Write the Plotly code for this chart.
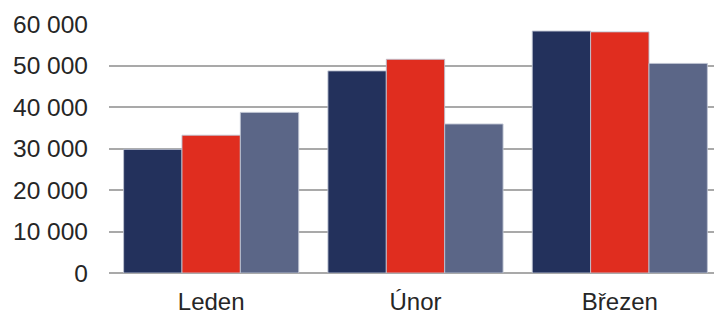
import plotly.graph_objects as go

categories = ["Leden", "Únor", "Březen"]
series_a = [29800, 48700, 58300]
series_b = [33200, 51500, 58100]
series_c = [38700, 35900, 50500]
series_names = ["Řada 1", "Řada 2", "Řada 3"]
colors = ["#23315c", "#e02d1f", "#5b6687"]

fig = go.Figure()
for name, vals, col in zip(series_names, [series_a, series_b, series_c], colors):
    fig.add_trace(go.Bar(
        x=categories, y=vals, name=name,
        marker=dict(color=col, line=dict(color="rgba(190,195,210,0.9)", width=1)),
    ))

fig.update_layout(
    width=714, height=311,
    margin=dict(l=109, r=0, t=24, b=38, autoexpand=False),
    barmode="group", bargap=0.143, bargroupgap=0,
    showlegend=False,
    plot_bgcolor="white", paper_bgcolor="white",
    separators=", ",
    font=dict(family="Liberation Sans, Arial, sans-serif", size=24, color="#262626"),
)
fig.update_xaxes(
    range=[-0.5, 2.461], showgrid=False, showline=False, zeroline=False,
    ticks="", ticklabelstandoff=12, automargin=False,
)
fig.update_yaxes(
    range=[0, 60000], dtick=10000, tickformat=",d",
    showgrid=True, gridcolor="#a9a9a9", gridwidth=1.5,
    zeroline=True, zerolinecolor="#a9a9a9", zerolinewidth=1.5,
    showline=False, ticks="", ticklabelstandoff=20, automargin=False,
    tickfont=dict(size=24.5),
)

fig.write_html(
    "out.html",
    config={"displayModeBar": False},
    post_script="document.body.style.margin='0';document.body.style.overflow='hidden';",
)
